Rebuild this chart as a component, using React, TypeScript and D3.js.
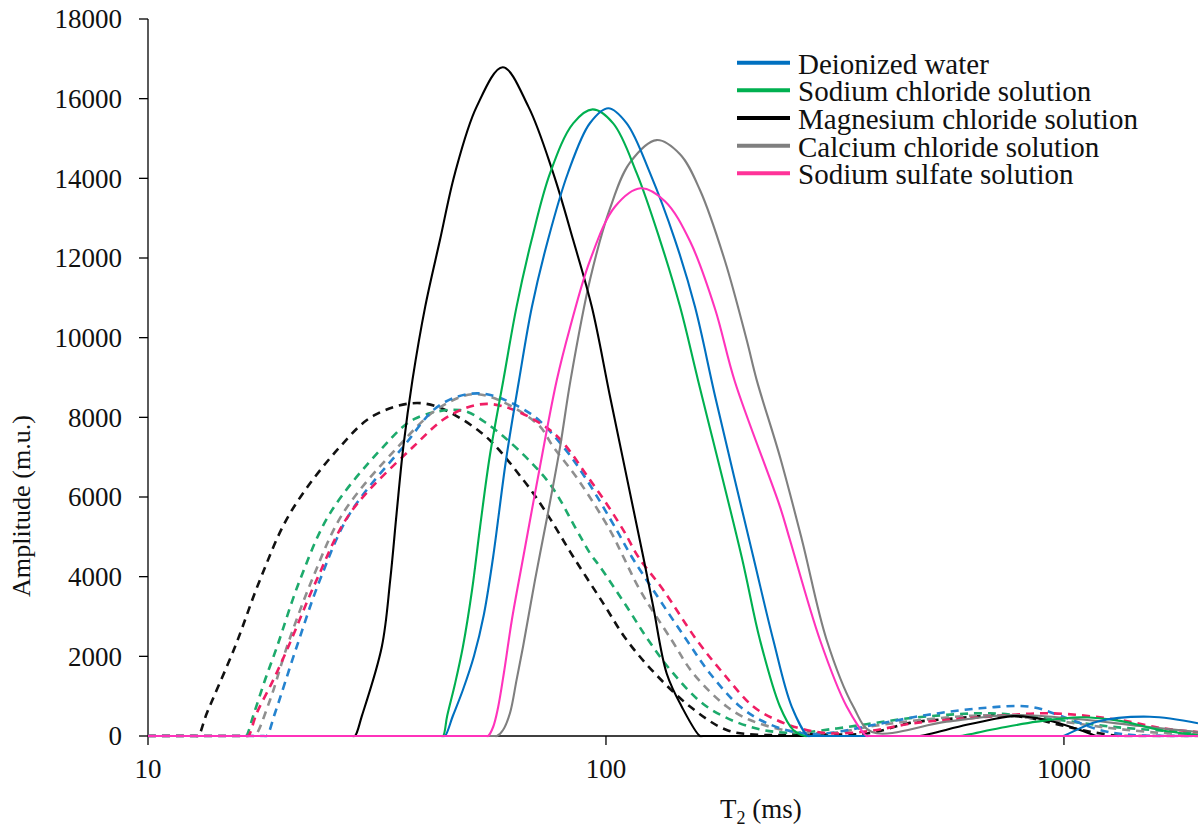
import React from "react";
import * as d3 from "d3";

type Pt = [number, number];

// T2 (ms), amplitude (m.u.)
const deionizedSolid: Pt[] = [[10,0],[43.9,0],[44.5,0],[46.3,502],[48.7,1155],[51.5,2008],[54.1,3038],[56.7,4494],[60.5,6929],[64.6,8937],[68.9,10770],[74.7,12452],[82.6,14134],[92.3,15389],[101.2,15760],[111.0,15380],[124.8,14130],[141.5,12450],[156.4,10780],[173.8,8440],[209.7,4500],[231.9,2410],[254.4,740],[276.1,0],[280,0],[985,0],[995,0],[1180,360],[1541,485],[1962,320]];
const sodiumChlorideSolid: Pt[] = [[10,0],[43.6,0],[44.1,0],[45.0,502],[46.8,1305],[48.7,2234],[51.0,3665],[53.1,5247],[55.8,7054],[59.7,8937],[63.8,10780],[68.8,12450],[75.5,14130],[84.8,15380],[93.5,15730],[103.7,15380],[116.7,14130],[131.2,12450],[145.1,10780],[158.8,8940],[197.8,4500],[216.9,2410],[239.8,740],[256.4,150],[271.9,0],[276,0],[585,0],[593,0],[725,200],[873,360],[1084,470],[1325,380],[1620,150],[1932,30],[1962,20]];
const magnesiumSolid: Pt[] = [[10,0],[27.9,0],[28.3,0],[29.3,500],[32.4,2240],[33.8,3920],[34.9,5590],[36.1,7260],[37.8,8940],[40.3,10780],[43.4,12450],[46.8,14130],[52.2,15800],[59.5,16790],[67.7,15800],[76.7,14130],[84.8,12450],[93.1,10780],[102.4,8440],[120.6,4500],[126.8,3250],[135.7,1570],[146.3,740],[160.4,0],[163,0],[478,0],[485,0],[613,280],[713,440],[774,500],[917,400],[1084,150],[1179,0],[1190,0],[1962,0]];
const calciumSolid: Pt[] = [[10,0],[57.2,0],[57.8,0],[59.6,150],[61.7,570],[63.8,1410],[65.9,2240],[70.0,3920],[74.7,5600],[79.4,7260],[83.7,8940],[92.3,11458],[102.0,13238],[112.8,14393],[129.0,14960],[145.1,14604],[160.4,13707],[181.9,11925],[202.9,9940],[213.3,8940],[239.8,7010],[267.9,4920],[303.3,2410],[346.7,740],[380.9,100],[554.5,360],[774,527],[1084,420],[1465,250],[1962,100]];
const sodiumSulfateSolid: Pt[] = [[10,0],[54.8,0],[55.3,0],[56.7,226],[58.1,703],[59.9,1607],[62.3,2912],[66.0,4500],[71.8,6778],[78.1,8937],[83.4,10237],[92.3,11943],[104.6,13286],[119.1,13750],[134.5,13426],[152.6,12419],[173.0,10727],[191.3,8887],[239.8,5760],[252.2,4920],[293.3,2410],[335.4,740],[370.8,0],[375,0],[1962,0]];

const deionizedDashed: Pt[] = [[10,0],[17.9,0],[18.16,0],[18.94,577],[21.12,2240],[23.74,3920],[27.61,5590],[36.09,7260],[43.4,8310],[53.07,8600],[68.24,8100],[80.68,7260],[90.76,6430],[105.5,5170],[113.8,4500],[126.8,3665],[150.0,2410],[168.7,1570],[196.2,740],[224.3,326],[265.2,75],[308.4,75],[382.8,276],[501.4,527],[655.5,695],[842.9,736],[995,485],[1198,150],[1394,30],[1962,0]];
const sodiumChlorideDashed: Pt[] = [[10,0],[16.2,0],[16.37,0],[17.04,570],[18.01,1406],[19.13,2242],[21.47,3920],[24.97,5590],[32.64,7260],[38.2,7960],[48.0,8180],[54.89,7850],[74.23,6430],[86.3,5170],[92.27,4590],[97.03,4250],[110.97,3250],[123.7,2410],[140.3,1570],[165.9,740],[206.3,230],[252.2,80],[318.9,190],[382.8,320],[453.5,440],[554.5,530],[689.3,570],[917,440],[1279,230],[1792,110],[1962,90]];
const magnesiumDashed: Pt[] = [[10,0],[12.7,0],[12.87,0],[13.44,570],[15.49,2240],[17.56,3920],[20.42,5590],[26.25,7260],[31.31,8060],[39.91,8350],[53.07,7640],[65.97,6430],[74.23,5590],[84.82,4500],[98.65,3330],[110.97,2410],[127.93,1570],[152.57,740],[183.48,150],[216.9,30],[265.2,40],[377.1,75],[461.1,330],[563.8,430],[724.9,520],[842.9,450],[980.1,276],[1139.7,108],[1325,0],[1350,0],[1962,0]];
const calciumDashed: Pt[] = [[10,0],[16.9,0],[17.12,0],[18.47,904],[20.11,2240],[22.81,3920],[26.65,5590],[35.15,7260],[43.4,8250],[52.55,8580],[70.59,7850],[76.72,7260],[87.0,6430],[102.0,5170],[109.1,4500],[118.6,3665],[139.1,2410],[155.1,1570],[183.5,740],[206.3,400],[252.2,125],[308.4,75],[382.8,250],[484.8,400],[689.3,520],[932,400],[1260,200],[1620,80],[1962,40]];
const sodiumSulfateDashed: Pt[] = [[10,0],[16.35,0],[16.56,0],[17.27,570],[18.78,1410],[20.25,2240],[23.35,3920],[27.61,5590],[37.95,7260],[45.65,8050],[55.81,8335],[75.46,7680],[92.27,6430],[109.1,5170],[117.6,4500],[133.4,3665],[157.8,2410],[180.4,1570],[209.7,740],[235.9,400],[265.2,193],[308.4,68],[377.1,125],[468.1,318],[689.3,485],[932,570],[1325,400],[1645,193],[1962,100]];

const legendNames = ["Deionized water", "Sodium chloride solution", "Magnesium chloride solution", "Calcium chloride solution", "Sodium sulfate solution"];
const legendColors = ["#0070C0", "#00B050", "#000000", "#7F7F7F", "#FF3399"];
const yTicks = [0, 2000, 4000, 6000, 8000, 10000, 12000, 14000, 16000, 18000];
const xTicks = [10, 100, 1000];

const FONT = "'Liberation Serif', 'Times New Roman', serif";

export default function App() {
  const left = 148, right = 1198, top = 19, bottom = 736;
  const x = d3.scaleLog().domain([10, 1962]).range([left, right]);
  const y = d3.scaleLinear().domain([0, 18000]).range([bottom, top]);
  const line = d3.line<Pt>().x(d => x(d[0])).y(d => y(d[1])).curve(d3.curveCatmullRom.alpha(0.5));

  const dashed = [
    { d: magnesiumDashed, c: "#111111" },
    { d: sodiumChlorideDashed, c: "#1DAA6C" },
    { d: calciumDashed, c: "#8F8F8F" },
    { d: deionizedDashed, c: "#2583CF" },
    { d: sodiumSulfateDashed, c: "#F01E64" },
  ];
  const solid = [
    { d: calciumSolid, c: "#7F7F7F" },
    { d: magnesiumSolid, c: "#000000" },
    { d: sodiumChlorideSolid, c: "#00B050" },
    { d: deionizedSolid, c: "#0070C0" },
    { d: sodiumSulfateSolid, c: "#FF33BB" },
  ];

  return (
    <svg width={1198} height={827} style={{ position: "absolute", left: 0, top: 0, background: "#fff" }} fontFamily={FONT}>
      <defs>
        <clipPath id="plot">
          <rect x={left} y={0} width={right - left} height={bottom + 1.5} />
        </clipPath>
      </defs>
      <rect x={0} y={0} width={1198} height={827} fill="#fff" />
      <line x1={left} x2={left} y1={top} y2={bottom} stroke="#000" strokeWidth={1.3} />
      <line x1={left} x2={right} y1={bottom} y2={bottom} stroke="#000" strokeWidth={1.3} />
      {yTicks.map(v => (
        <g key={"y" + v}>
          <line x1={left - 9} x2={left} y1={y(v)} y2={y(v)} stroke="#000" strokeWidth={1.3} />
          <text x={122} y={y(v)} dy="0.35em" textAnchor="end" fontSize={27} fill="#111">{v}</text>
        </g>
      ))}
      {xTicks.map(v => (
        <g key={"x" + v}>
          <line x1={x(v)} x2={x(v)} y1={bottom} y2={bottom + 9} stroke="#000" strokeWidth={1.3} />
          <text x={x(v)} y={778} textAnchor="middle" fontSize={27} fill="#111">{v}</text>
        </g>
      ))}
      <g clipPath="url(#plot)" fill="none">
        {dashed.map((s, i) => (
          <path key={"d" + i} d={line(s.d) || ""} stroke={s.c} strokeWidth={2.6} strokeDasharray="8,6" />
        ))}
        {solid.map((s, i) => (
          <path key={"s" + i} d={line(s.d) || ""} stroke={s.c} strokeWidth={2.1} />
        ))}
      </g>
      {legendNames.map((n, i) => {
        const ly = 62.7 + i * 27.65;
        return (
          <g key={n}>
            <line x1={737} x2={790} y1={ly} y2={ly} stroke={legendColors[i]} strokeWidth={4} />
            <text x={798} y={ly + 11} fontSize={29} fill="#111">{n}</text>
          </g>
        );
      })}
      <text x={720} y={818} fontSize={27} fill="#111">
        <tspan>T</tspan>
        <tspan fontSize={18} dy={6}>2</tspan>
        <tspan dy={-6}> (ms)</tspan>
      </text>
      <text transform="translate(30,506) rotate(-90)" textAnchor="middle" fontSize={26} textLength={182} lengthAdjust="spacingAndGlyphs" fill="#111">Amplitude (m.u.)</text>
    </svg>
  );
}
